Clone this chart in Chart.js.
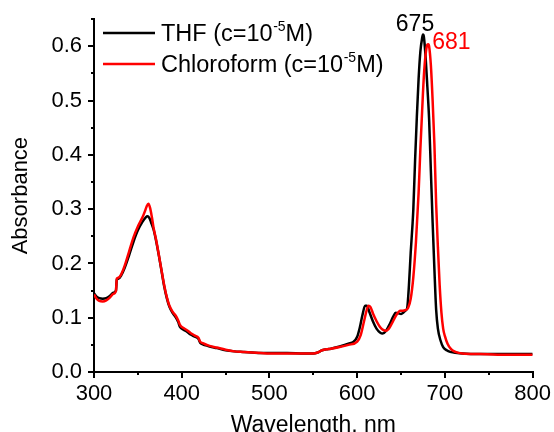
<!DOCTYPE html>
<html>
<head>
<meta charset="utf-8">
<script src="https://cdn.jsdelivr.net/npm/chart.js@4.4.1/dist/chart.umd.min.js"></script>
<style>
html,body{margin:0;padding:0;background:#fff;}
#wrap{width:554px;height:432px;}
</style>
</head>
<body>
<div id="wrap"><canvas id="c" width="554" height="432"></canvas></div>
<script>
// ---- data ----
const thfWavelength = [300,303,306,310,314,318,322,325,326,328,331,335,340,345,350,355,359,361,363,365,368,371,374,377,380,383,386,390,393,396,398,402,406,410,415,419,421,424,430,440,450,460,470,480,490,500,520,540,550,555,560,565,570,580,590,596,600,603,606,609,611,614,618,622,626,629,633,637,641,644,647,650,653,655,657,659,661,663,664,666,668,670,672,674,675,676,678,680,682,684,686,688,690,692,695,698,702,706,710,720,740,760,780,800];
const thfAbsorbance = [0.145,0.139,0.136,0.135,0.136,0.140,0.146,0.150,0.170,0.172,0.178,0.192,0.215,0.240,0.261,0.276,0.285,0.287,0.284,0.276,0.262,0.240,0.214,0.186,0.158,0.136,0.120,0.108,0.101,0.092,0.083,0.078,0.074,0.069,0.065,0.061,0.054,0.051,0.048,0.044,0.040,0.038,0.037,0.036,0.035,0.035,0.035,0.034,0.034,0.036,0.040,0.042,0.043,0.047,0.052,0.056,0.065,0.082,0.105,0.122,0.122,0.110,0.093,0.080,0.073,0.071,0.076,0.088,0.102,0.109,0.108,0.107,0.110,0.113,0.118,0.160,0.220,0.270,0.300,0.390,0.470,0.540,0.590,0.615,0.622,0.618,0.580,0.525,0.465,0.370,0.275,0.190,0.115,0.080,0.058,0.046,0.040,0.037,0.036,0.034,0.033,0.033,0.033,0.033];

const chlWavelength = [300,303,306,310,314,318,322,325,326,328,331,335,340,345,350,355,358,360,362,364,366,368,371,374,377,380,383,386,390,393,396,398,402,406,410,415,419,421,424,430,440,450,460,470,480,490,500,520,540,550,555,560,565,570,580,590,600,604,608,611,613,615,618,622,626,630,633,637,641,645,649,652,655,658,661,664,667,670,672,674,676,678,680,681,682,684,686,688,690,692,694,696,698,700,703,707,712,720,740,760,780,800];
const chlAbsorbance = [0.143,0.135,0.131,0.130,0.132,0.137,0.144,0.149,0.172,0.174,0.180,0.196,0.222,0.248,0.268,0.284,0.296,0.305,0.310,0.302,0.285,0.265,0.242,0.215,0.187,0.160,0.138,0.122,0.110,0.104,0.095,0.087,0.081,0.077,0.072,0.067,0.063,0.056,0.053,0.049,0.045,0.041,0.038,0.037,0.036,0.035,0.034,0.034,0.034,0.034,0.036,0.040,0.042,0.043,0.046,0.050,0.056,0.068,0.095,0.115,0.122,0.120,0.108,0.094,0.083,0.077,0.076,0.082,0.094,0.106,0.113,0.113,0.114,0.118,0.135,0.175,0.240,0.330,0.410,0.480,0.545,0.585,0.603,0.604,0.600,0.565,0.500,0.420,0.310,0.230,0.160,0.110,0.080,0.066,0.052,0.042,0.037,0.034,0.033,0.032,0.032,0.032];

const seriesNames = ['THF', 'Chloroform'];
const legendLabels = [['THF (c=10', '-5', 'M)'], ['Chloroform (c=10', '-5', 'M)']];
const peakLabels = ['675', '681'];
const peakWavelengths = [675, 681];
const peakValues = [0.622, 0.604];
const xTicks = [300, 400, 500, 600, 700, 800];
const xMinorTicks = [350, 450, 550, 650, 750];
const yTicks = [0.0, 0.1, 0.2, 0.3, 0.4, 0.5, 0.6];
const yMinorTicks = [0.05, 0.15, 0.25, 0.35, 0.45, 0.55, 0.65];

const colors = ['#000000', '#ff0000'];
const FONT = '"Liberation Sans", Arial, sans-serif';

function toPoints(xs, ys){ return xs.map((x,i)=>({x:x, y:ys[i]})); }

const decorPlugin = {
  id: 'decor',
  afterDraw(chart){
    const ctx = chart.ctx;
    const xs = chart.scales.x, ys = chart.scales.y;
    const area = chart.chartArea;
    ctx.save();
    // minor ticks
    ctx.strokeStyle = '#000';
    ctx.lineWidth = 2;
    xMinorTicks.forEach(v=>{
      const px = Math.round(xs.getPixelForValue(v));
      ctx.beginPath(); ctx.moveTo(px, area.bottom); ctx.lineTo(px, area.bottom + 3); ctx.stroke();
    });
    yMinorTicks.forEach(v=>{
      const py = Math.round(ys.getPixelForValue(v));
      ctx.beginPath(); ctx.moveTo(area.left, py); ctx.lineTo(area.left - 3, py); ctx.stroke();
    });
    // legend
    const rowY = [33, 64];
    legendLabels.forEach((parts, i)=>{
      ctx.strokeStyle = colors[i];
      ctx.lineWidth = 2.5;
      ctx.beginPath(); ctx.moveTo(103, rowY[i]); ctx.lineTo(155, rowY[i]); ctx.stroke();
      ctx.fillStyle = '#000';
      ctx.textBaseline = 'alphabetic';
      ctx.textAlign = 'left';
      let x = 161;
      const base = rowY[i] + 8;
      ctx.font = '23.5px ' + FONT;
      ctx.fillText(parts[0], x, base); x += ctx.measureText(parts[0]).width + 0.5;
      ctx.font = '14px ' + FONT;
      ctx.fillText(parts[1], x, base - 10); x += ctx.measureText(parts[1]).width;
      ctx.font = '23.5px ' + FONT;
      ctx.fillText(parts[2], x, base);
    });
    // peak labels
    ctx.font = '23px ' + FONT;
    ctx.textBaseline = 'alphabetic';
    const offs = [[-8, -3, 'center'], [4, 5, 'left']];
    peakLabels.forEach((t, i)=>{
      const px = xs.getPixelForValue(peakWavelengths[i]);
      const py = ys.getPixelForValue(peakValues[i]);
      ctx.fillStyle = colors[i];
      ctx.textAlign = offs[i][2];
      ctx.fillText(t, px + offs[i][0], py + offs[i][1]);
    });
    ctx.restore();
  }
};

new Chart(document.getElementById('c'), {
  type: 'line',
  data: {
    datasets: [
      { label: seriesNames[0], data: toPoints(thfWavelength, thfAbsorbance), borderColor: colors[0], borderWidth: 2.5, pointRadius: 0, cubicInterpolationMode: 'monotone', order: 1 },
      { label: seriesNames[1], data: toPoints(chlWavelength, chlAbsorbance), borderColor: colors[1], borderWidth: 2.5, pointRadius: 0, cubicInterpolationMode: 'monotone', order: 0 }
    ]
  },
  options: {
    responsive: false,
    animation: false,
    devicePixelRatio: 1,
    layout: { padding: { top: 17, right: 20, left: 0, bottom: 0 } },
    plugins: { legend: { display: false }, tooltip: { enabled: false } },
    scales: {
      x: {
        type: 'linear', min: 300, max: 800,
        afterFit(s){ s.height = 60; },
        afterBuildTicks(s){ s.ticks = xTicks.map(v=>({value:v})); },
        grid: { drawOnChartArea: false, drawTicks: true, tickLength: 6, color: '#000', lineWidth: 2 },
        border: { display: true, color: '#000', width: 2 },
        ticks: { color: '#000', font: { family: FONT, size: 22 }, padding: 3, maxRotation: 0, autoSkip: false, callback: v => String(v) },
        title: { display: true, text: 'Wavelength, nm', color: '#000', font: { family: FONT, size: 23 }, padding: { top: 0, bottom: -7 } }
      },
      y: {
        type: 'linear', min: 0, max: 0.65,
        afterFit(s){ s.width = 94; },
        afterBuildTicks(s){ s.ticks = yTicks.map(v=>({value:v})); },
        grid: { drawOnChartArea: false, drawTicks: true, tickLength: 6, color: '#000', lineWidth: 2 },
        border: { display: true, color: '#000', width: 2 },
        ticks: { color: '#000', font: { family: FONT, size: 22 }, padding: 6, autoSkip: false, callback: v => Number(v).toFixed(1) },
        title: { display: true, text: 'Absorbance', color: '#000', font: { family: FONT, size: 22 }, padding: { top: 8, bottom: 0 } }
      }
    }
  },
  plugins: [decorPlugin]
});
</script>
</body>
</html>
